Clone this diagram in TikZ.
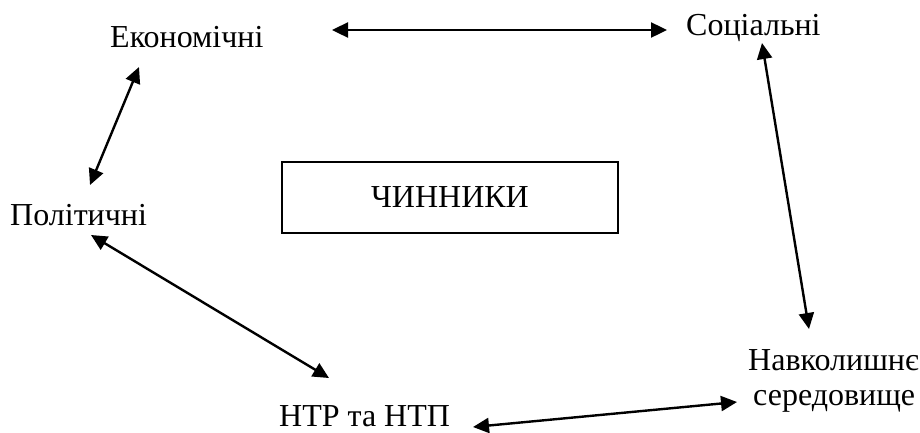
\documentclass[tikz,border=0pt]{standalone}
\usepackage{fontspec}
\setmainfont{Liberation Serif}
\newfontfamily\tnr{Liberation Serif}
\usetikzlibrary{arrows.meta}
\begin{document}
\begin{tikzpicture}[x=1pt,y=-1pt,
  lbl/.style={inner sep=0pt, anchor=base west, text depth=0pt, font=\tnr\fontsize{32}{34}\selectfont},
  centerbox/.style={draw, line width=1.8pt, minimum width=336pt, minimum height=71pt, inner sep=0pt, font=\tnr\fontsize{32}{34}\selectfont},
  link/.style={{Triangle[length=16pt,width=15pt]}-{Triangle[length=16pt,width=15pt]}, line width=2.4pt}]
\useasboundingbox (0,0) rectangle (920,432);
\node[lbl] (eco) at (110,47) {Економічні};
\node[lbl] (soc) at (686,35) {Соціальні};
\node[lbl] (pol) at (10,225) {Політичні};
\node[lbl] (ntr) at (279,426) {НТР та НТП};
\node[lbl] (nav) at (748,370) {Навколишнє};
\node[lbl] (ser) at (753,405) {середовище};
\node[centerbox] (core) at (450,197.5) {ЧИННИКИ};
\coordinate (ecoR) at (332,30);
\coordinate (socL) at (667,30);
\coordinate (ecoB) at (139,67);
\coordinate (polT) at (90,185);
\coordinate (socB) at (762,43);
\coordinate (navT) at (809,329);
\coordinate (polB) at (91,235);
\coordinate (ntrT) at (329,378);
\coordinate (ntrR) at (473,427);
\coordinate (serL) at (737,402);
\draw[link] (ecoR) -- (socL);
\draw[link] (ecoB) -- (polT);
\draw[link] (socB) -- (navT);
\draw[link] (polB) -- (ntrT);
\draw[link] (ntrR) -- (serL);
\end{tikzpicture}
\end{document}
